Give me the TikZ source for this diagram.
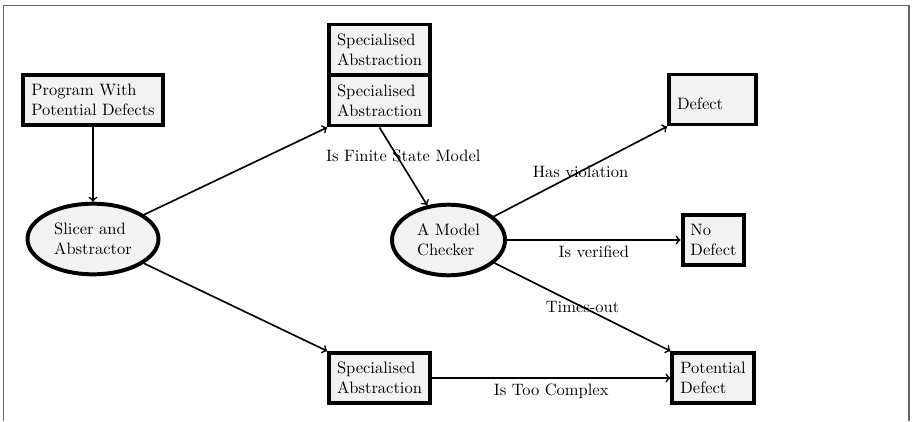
\documentclass[tikz,border=0pt]{standalone}
\usetikzlibrary{shapes.geometric}
\begin{document}
\begin{tikzpicture}[x=0.60606pt,y=-0.60606pt,
  box/.style={draw,line width=2.4pt,fill=black!5,align=left,inner xsep=4.8pt,minimum height=30.3pt},
  oval/.style={ellipse,draw,line width=2.4pt,fill=black!5,align=left,minimum height=42.8pt},
  flow/.style={->,line width=1pt},
  lbl/.style={inner sep=3.33pt}]
\useasboundingbox (0,0) rectangle (914,421);
% outer frame
\draw[line width=0.9pt, black!60] (3.5,421) -- (3.5,5.5) -- (909,5.5) -- (909,421);

% nodes
\node[box] (prog) at (93,100) {Program With\\Potential Defects};
\node[oval, minimum width=79.4pt] (slicer) at (93,239) {Slicer and\\Abstractor};
\node[box] (saB) at (379.5,100.5) {Specialised\\Abstraction};
\node[box] (saA) at (379.5,49.5) {Specialised\\Abstraction};
\node[box] (saC) at (379.5,378) {Specialised\\Abstraction};
\node[oval, minimum width=68.5pt] (mc) at (448.5,240) {A Model\\Checker};
\node[box, text width=43pt] (def) at (712.5,99.5) {\mbox{}\\Defect};
\node[box] (nodef) at (713.5,240) {No\\Defect};
\node[box] (pdef) at (713,378) {Potential\\Defect};

% connectors
\draw[flow] (prog) -- (slicer);
\draw[flow] (slicer) -- (saB.south west);
\draw[flow] (slicer) -- (saC.north west);
\draw[flow] (saB.south) -- node[lbl, pos=0.36, xshift=4pt] {Is Finite State Model} (mc);
\draw[flow] (mc) -- node[lbl, midway] {Has violation} (def.south west);
\draw[flow] (mc) -- node[lbl, midway, below] {Is verified} (nodef);
\draw[flow] (mc) -- node[lbl, midway] {Times-out} (pdef.north west);
\draw[flow] (saC) -- node[lbl, midway, below] {Is Too Complex} (pdef);
\end{tikzpicture}
\end{document}
